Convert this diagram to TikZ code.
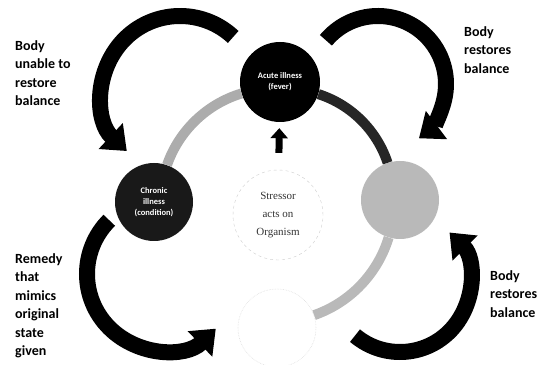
\documentclass[tikz,border=0pt]{standalone}
\usepackage{fontspec}
\setmainfont{Liberation Serif}
\setsansfont{Carlito}
\usetikzlibrary{arrows.meta}

\begin{document}
\begin{tikzpicture}[
    x=1pt,y=1pt,
    font=\sffamily\bfseries\fontsize{14}{18.5}\selectfont,
    phase/.style={circle,inner sep=0pt,minimum size=78pt,align=center,
        text=white,font=\sffamily\bfseries\fontsize{8.5}{11}\selectfont},
    ring/.style={line width=10pt,looseness=0.9},
    bigarrow/.style={draw=black,line width=16pt,-{Triangle[width=34pt,length=22pt]}},
    uparrow/.style={draw=black,line width=7pt,-{Triangle[width=17pt,length=10pt]}},
    sidelabel/.style={anchor=north west,inner sep=0pt,align=left}
]
\useasboundingbox (0,0) rectangle (540,364);
\node[phase,fill=black,minimum size=80pt] (acute) at (280,282) {Acute illness\\(fever)};
\node[phase,fill=black!90] (chronic) at (154,162) {Chronic\\illness\\(condition)};
\node[phase,fill=gray!55] (restored) at (400,164) {};
\node[phase,fill=white,draw=gray!25,densely dotted,line width=0.6pt] (health) at (277,36) {};
\node[circle,draw=gray!40,dashed,minimum size=90pt,align=center,
    font=\rmfamily\fontsize{11}{18}\selectfont,text=black!80] (stressor) at (278,149)
    {Stressor\\acts on\\Organism};
\draw[ring,gray!65] (acute) to[bend right=27] (chronic);
\draw[ring,black!85] (acute) to[bend left=27] (restored);
\draw[ring,gray!55] (restored) to[bend left=27] (health);
\draw[uparrow,shorten <=17pt,shorten >=6pt] (stressor) -- (acute);
\coordinate (tlc) at (180,270);
\coordinate (trc) at (378,280);
\coordinate (blc) at (163,90);
\coordinate (brc) at (400,82);
\draw[bigarrow] ([shift={(47:78)}]tlc) arc[start angle=47,end angle=227,radius=78];
\draw[bigarrow] ([shift={(140:68)}]trc) arc[start angle=140,end angle=-53,radius=68];
\draw[bigarrow] ([shift={(135:76)}]blc) arc[start angle=135,end angle=314,radius=76];
\draw[bigarrow] ([shift={(230:70)}]brc) arc[start angle=230,end angle=405,radius=70];
\node[sidelabel] (unable) at (15,324) {Body\\unable to\\restore\\balance};
\node[sidelabel] (restoretop) at (464,338) {Body\\restores\\balance};
\node[sidelabel] (remedy) at (15,111) {Remedy\\that\\mimics\\original\\state\\given};
\node[sidelabel] (restorebottom) at (490,94) {Body\\restores\\balance};
\end{tikzpicture}
\end{document}
